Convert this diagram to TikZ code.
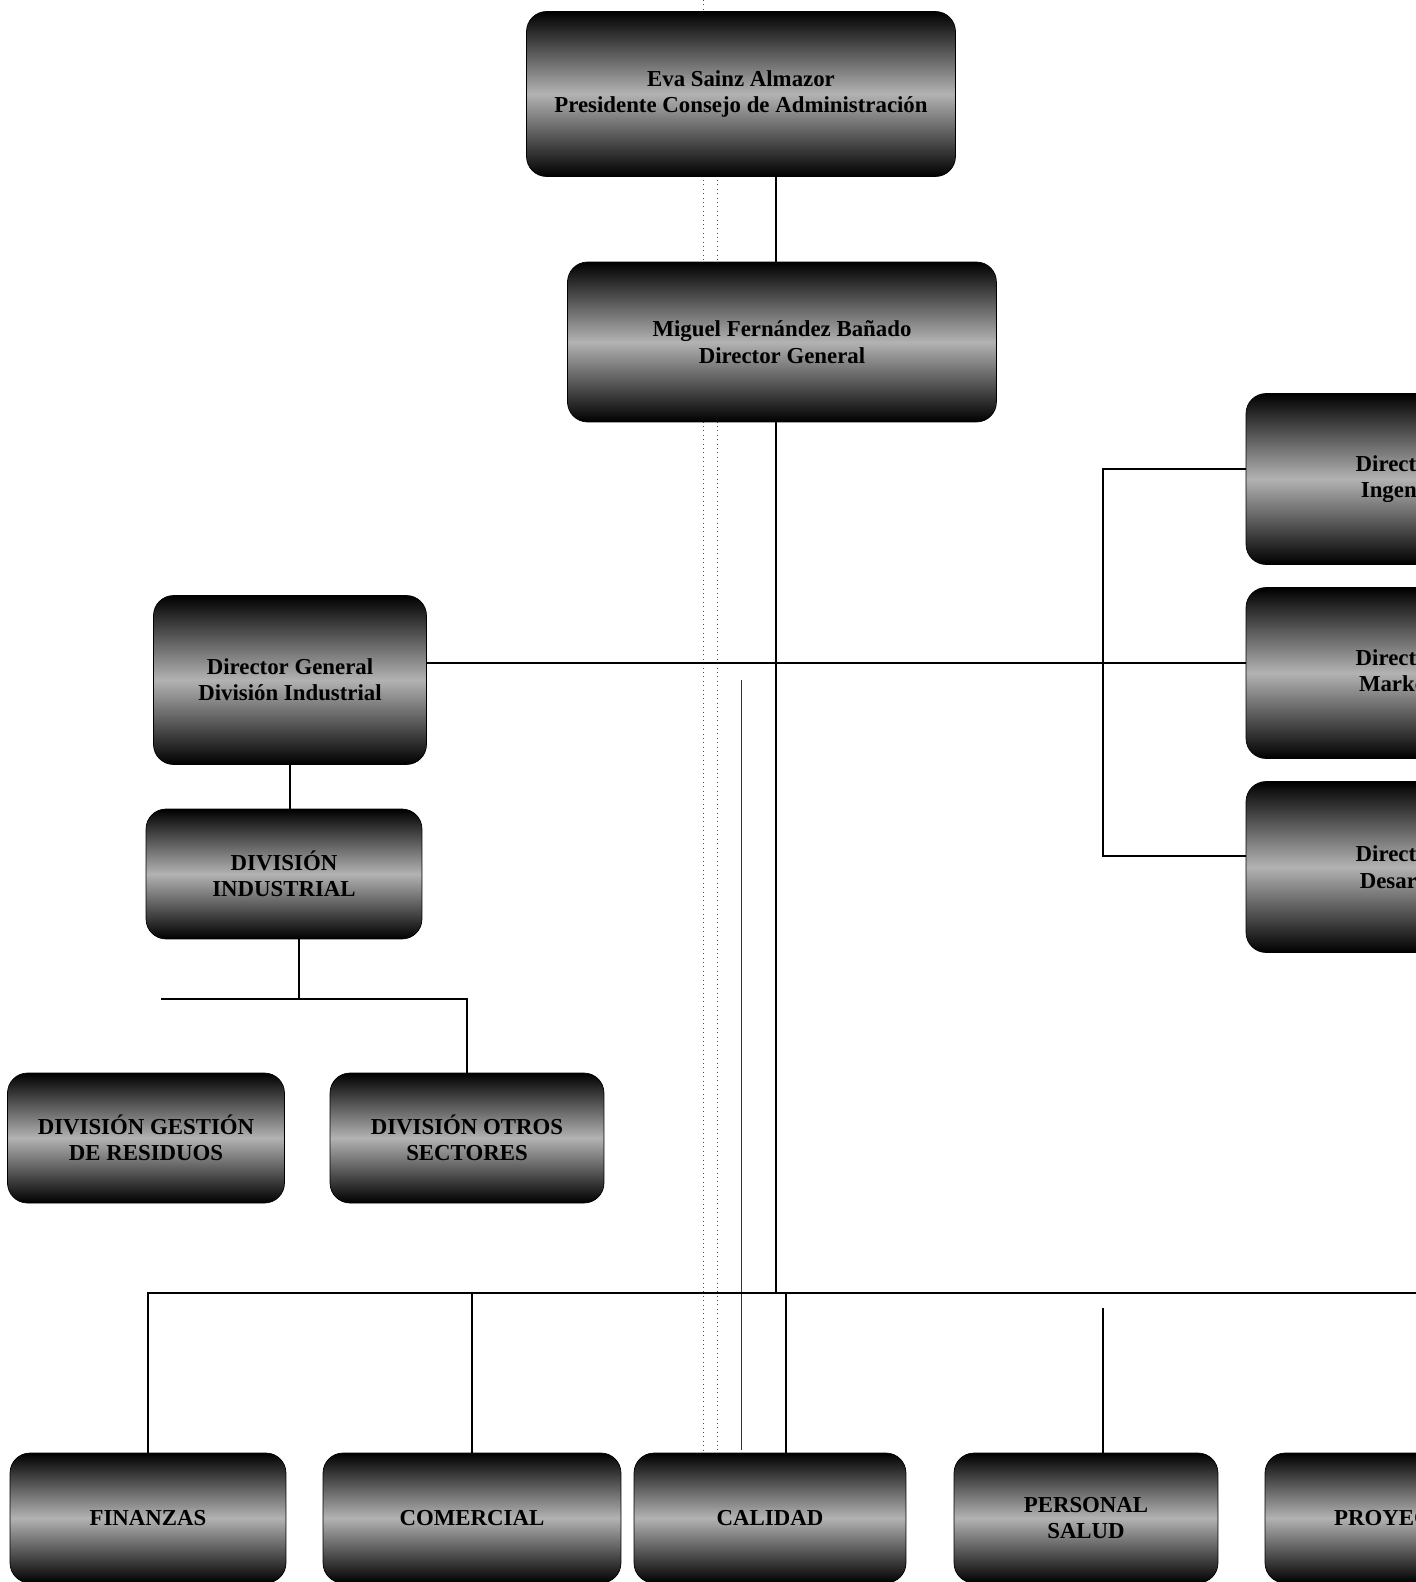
\documentclass[tikz,border=0pt]{standalone}
\usepackage{fontspec}
\setmainfont{Liberation Serif}
\usetikzlibrary{positioning}
\tikzset{
  orgbox/.style={rounded corners=0.4cm, top color=black, bottom color=black,
    middle color=gray!60, draw=black, text=black, align=center, inner sep=0pt,
    font=\bfseries\fontsize{13}{15}\selectfont},
  link/.style={draw=black, line width=0.9pt},
  scanmark/.style={black!70, line width=0.5pt, dotted}
}
\begin{document}
\begin{tikzpicture}[x=0.02cm, y=-0.02cm]
  \useasboundingbox (0,0) rectangle (1416,1582);
  \clip (0,0) rectangle (1416,1582);
  % Scan streaks
  \draw[scanmark] (703,0) -- (703,1582);
  \draw[scanmark] (717,180) -- (717,1582);
  \draw[black!80, line width=0.5pt] (741,680) -- (741,1450);
  % Boxes
  \node[orgbox, minimum width=8.58cm, minimum height=3.3cm] (pres) at (741,94)
    {Eva Sainz Almazor\\Presidente Consejo de Administración};
  \node[orgbox, minimum width=8.58cm, minimum height=3.2cm] (dg) at (782,342)
    {Miguel Fernández Bañado\\Director General};
  \node[orgbox, minimum width=5.46cm, minimum height=3.38cm] (divdg) at (290,680)
    {Director General\\División Industrial};
  \node[orgbox, minimum width=5.52cm, minimum height=2.6cm] (divind) at (284,874)
    {DIVISIÓN\\INDUSTRIAL};
  \node[orgbox, minimum width=5.54cm, minimum height=2.6cm] (res) at (146,1138)
    {DIVISIÓN GESTIÓN\\DE RESIDUOS};
  \node[orgbox, minimum width=5.48cm, minimum height=2.6cm] (sec) at (467,1138)
    {DIVISIÓN OTROS\\SECTORES};
  \foreach \nm/\yy/\lab in {rb1/479/Ingeniería, rb2/673/Marketing, rb3/867/Desarrollo}
    \node[orgbox, minimum width=6.6cm, minimum height=3.42cm] (\nm) at (1411,\yy)
      {Director de\\\lab};
  \node[orgbox, minimum width=5.52cm, minimum height=2.6cm] (b1) at (148,1518) {FINANZAS};
  \node[orgbox, minimum width=5.96cm, minimum height=2.6cm] (b2) at (472,1518) {COMERCIAL};
  \node[orgbox, minimum width=5.44cm, minimum height=2.6cm] (b3) at (770,1518) {CALIDAD};
  \node[orgbox, minimum width=5.28cm, minimum height=2.6cm] (b4) at (1086,1518) {PERSONAL\\SALUD};
  \node[orgbox, minimum width=5.6cm, minimum height=2.6cm] (b5) at (1405,1518) {PROYECTOS};
  % Junctions
  \coordinate (trunk) at (776,0);
  \coordinate (midrow) at (0,663);
  \coordinate (rjoin) at (1103,0);
  \coordinate (lbus) at (0,999);
  \coordinate (ldrop) at (299,0);
  \coordinate (lend) at (161,999);
  \coordinate (bus) at (0,1293);
  \coordinate (busend) at (1416,1293);
  \coordinate (mdrop) at (786,0);
  % Connectors
  \draw[link] (pres.south -| trunk) -- (dg.north -| trunk);
  \draw[link] (dg.south -| trunk) -- (trunk |- bus);
  \draw[link] (divdg.east |- midrow) -- (rb2.west |- midrow);
  \draw[link] (rb1.west |- 0,469) -| (rjoin |- midrow);
  \draw[link] (rb3.west |- 0,856) -| (rjoin |- midrow);
  \draw[link] (divdg.south) -- (divdg.south |- divind.north);
  \draw[link] (divind.south -| ldrop) -- (ldrop |- lbus);
  \draw[link] (lend) -- (sec.north |- lbus) -- (sec.north);
  \draw[link] (b1.north) -- (b1.north |- bus) -- (busend);
  \draw[link] (b2.north) -- (b2.north |- bus);
  \draw[link] (b3.north -| mdrop) -- (mdrop |- bus);
  \draw[link] (b4.north -| rjoin) -- ++(0,-145);
\end{tikzpicture}
\end{document}
